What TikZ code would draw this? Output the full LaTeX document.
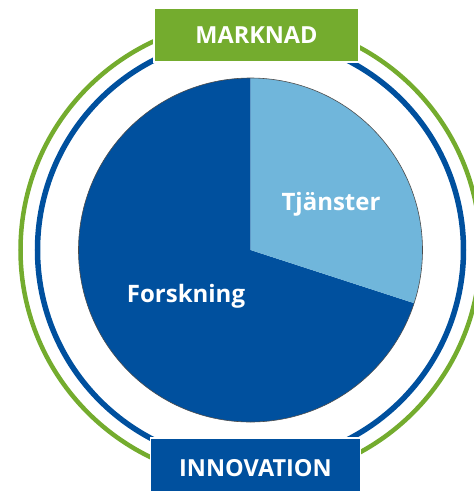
\documentclass[tikz,border=0pt]{standalone}
\usepackage{fontspec}
\setmainfont{Open Sans}
\definecolor{mgreen}{RGB}{116,172,46}
\definecolor{dblue}{RGB}{0,80,158}
\definecolor{lblue}{RGB}{112,182,219}
\begin{document}
\begin{tikzpicture}[x=1pt,y=-1pt,
  ring/.style={line width=#1},
  label/.style={text=white,font=\bfseries\fontsize{24}{28}\selectfont},
  tag/.style={draw=white,line width=1.5pt,inner sep=0pt,text=white,font=\bfseries\fontsize{23.5}{28}\selectfont}]
\useasboundingbox (0,0) rectangle (474,491);
\coordinate (c) at (250.5,250);
% rings
\draw[mgreen,ring=4.5pt] (c) circle[radius=230];
\draw[dblue,ring=5.5pt] (c) circle[radius=213];
% pie (y axis points down: angles are mirrored)
\fill[dblue] (c) -- ++(-90:172) arc[start angle=-90,end angle=-342,radius=172] -- cycle;
\fill[lblue] (c) -- ++(-90:172) arc[start angle=-90,end angle=18,radius=172] -- cycle;
\draw[gray!60!black,line width=0.6pt] (c) circle[radius=172];
\node[label] (tj) at (331,204) {Tjänster};
\node[label] (fo) at (186,296) {Forskning};
% tags
\node[tag,fill=mgreen,minimum width=205pt,minimum height=54pt] (mk) at (256.5,35) {MARKNAD};
\node[tag,fill=dblue,minimum width=210pt,minimum height=60pt] (in) at (255.5,468) {INNOVATION};
\end{tikzpicture}
\end{document}
